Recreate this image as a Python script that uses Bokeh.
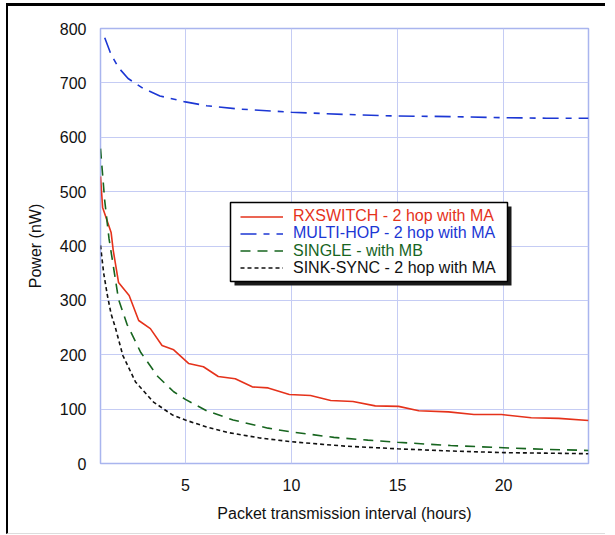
from bokeh.plotting import figure
from bokeh.models import Legend, LegendItem, BoxAnnotation, FixedTicker, Range1d
from bokeh.embed import file_html
from bokeh.resources import INLINE

# ---- data ----
rx_x = [1, 1.1, 1.5, 1.6, 1.85, 2.35, 2.8, 3.35, 3.9, 4.45, 5.15, 5.85, 6.55, 7.35,
        8.15, 8.9, 9.9, 10.9, 11.85, 12.9, 13.95, 15.05, 16.0, 17.4, 18.6, 19.9,
        21.3, 22.6, 24]
rx_y = [528, 471, 425, 392, 333, 309, 263, 248, 217, 209, 184, 178, 160, 156,
        141, 139, 127, 125, 116, 114, 106, 105, 97, 95, 90, 90, 84, 83, 79]

mh_x = [1.2, 1.5, 1.85, 2.3, 3, 3.8, 5, 6, 7.5, 10, 12.5, 15, 17.5, 20, 22, 24]
mh_y = [783, 752, 728, 708, 690, 676, 665, 658, 652, 646, 642, 639, 638, 636, 635, 635]

sg_x = [1, 1.2, 1.4, 1.6, 1.85, 2.25, 2.9, 3.7, 4.45, 5, 6, 7.25, 8.9, 10, 12,
        13.6, 15, 17.5, 20, 22, 24]
sg_y = [579, 483, 414, 364, 302, 256, 204, 160, 132, 118, 97, 80, 65, 58, 48,
        43, 39, 33, 29, 26, 24]

ss_x = [1, 1.15, 1.33, 1.5, 1.7, 2.05, 2.65, 3.5, 4.4, 5, 6, 7, 8.5, 10, 12.5,
        15, 17.5, 20, 22, 24]
ss_y = [401, 350, 308, 275, 250, 199, 150, 113, 89, 80, 67, 57, 47, 40, 32,
        27, 23, 20, 19, 18]

labels = ["RXSWITCH - 2 hop with MA", "MULTI-HOP - 2 hop with MA",
          "SINGLE - with MB", "SINK-SYNC - 2 hop with MA"]
colors = ["#e5321b", "#1c37d4", "#17651f", "#111111"]
x_ticks = [5, 10, 15, 20]
y_ticks = [0, 100, 200, 300, 400, 500, 600, 700, 800]

FONT = "Liberation Sans"
W, H = 597, 527

p = figure(width=W, height=H, output_backend="svg", toolbar_location=None,
           x_range=Range1d(1, 24), y_range=Range1d(0, 800),
           min_border_left=92, min_border_right=19, min_border_top=22,
           min_border_bottom=74)
p.styles = {"margin-top": "3px", "margin-left": "6px",
            "border-top": "3px solid black", "border-left": "2px solid black",
            "border-bottom": "1px solid #dddddd", "box-sizing": "content-box"}

p.outline_line_color = "#a9b5ee"
p.outline_line_width = 1.5

for ax in (p.xaxis[0], p.yaxis[0]):
    ax.axis_line_color = None
    ax.major_tick_line_color = None
    ax.minor_tick_line_color = None
    ax.major_label_text_font = FONT
    ax.major_label_text_font_size = "16px"
    ax.major_label_text_color = "#111111"
    ax.axis_label_text_font = FONT
    ax.axis_label_text_font_size = "16px"
    ax.axis_label_text_font_style = "normal"
    ax.axis_label_text_color = "#111111"

p.xaxis.major_label_standoff = 9
p.xaxis.axis_label_standoff = 11
p.yaxis.major_label_standoff = 8
p.yaxis.axis_label_standoff = 13

p.xaxis.ticker = FixedTicker(ticks=x_ticks)
p.yaxis.ticker = FixedTicker(ticks=y_ticks)
p.xaxis.axis_label = "Packet transmission interval (hours)"
p.yaxis.axis_label = "Power (nW)"

p.xgrid.ticker = FixedTicker(ticks=x_ticks)
p.ygrid.ticker = FixedTicker(ticks=y_ticks)
p.grid.grid_line_color = "#c5ccf4"
p.grid.grid_line_width = 1

r1 = p.line(rx_x, rx_y, line_color=colors[0], line_width=1.6)
r2 = p.line(mh_x, mh_y, line_color=colors[1], line_width=1.6, line_dash="16 7 6 7")
r3 = p.line(sg_x, sg_y, line_color=colors[2], line_width=1.6, line_dash="10 7")
r4 = p.line(ss_x, ss_y, line_color=colors[3], line_width=1.6, line_dash="4 3")
renderers = [r1, r2, r3, r4]


def sbox(l, r, t, b, fill, line=None, lw=1):
    # screen units: x from frame left, y upward from frame bottom
    return BoxAnnotation(left=l, right=r, top=t, bottom=b,
                         left_units="screen", right_units="screen",
                         top_units="screen", bottom_units="screen",
                         fill_color=fill, fill_alpha=1,
                         line_color=line, line_width=lw, line_alpha=1)


# legend box with shadow
p.add_layout(sbox(134, 411, 257, 178, "#1a1a1a"))
p.add_layout(sbox(130, 407, 261, 182, "white", "black", 1.5))

row_bottoms = [238, 220.7, 203.5, 186.2]
for lab, col, rr, yb in zip(labels, colors, renderers, row_bottoms):
    lg = Legend(items=[LegendItem(label=lab, renderers=[rr])], location=(140, yb))
    lg.label_text_font = FONT
    lg.label_text_font_size = "16px"
    lg.label_text_color = col
    lg.border_line_color = None
    lg.background_fill_alpha = 0
    lg.glyph_width = 43
    lg.glyph_height = 17
    lg.label_height = 17
    lg.spacing = 0
    lg.padding = 0
    lg.margin = 0
    lg.label_standoff = 10
    p.add_layout(lg, "center")

open("out.html", "w").write(file_html(p, INLINE))
